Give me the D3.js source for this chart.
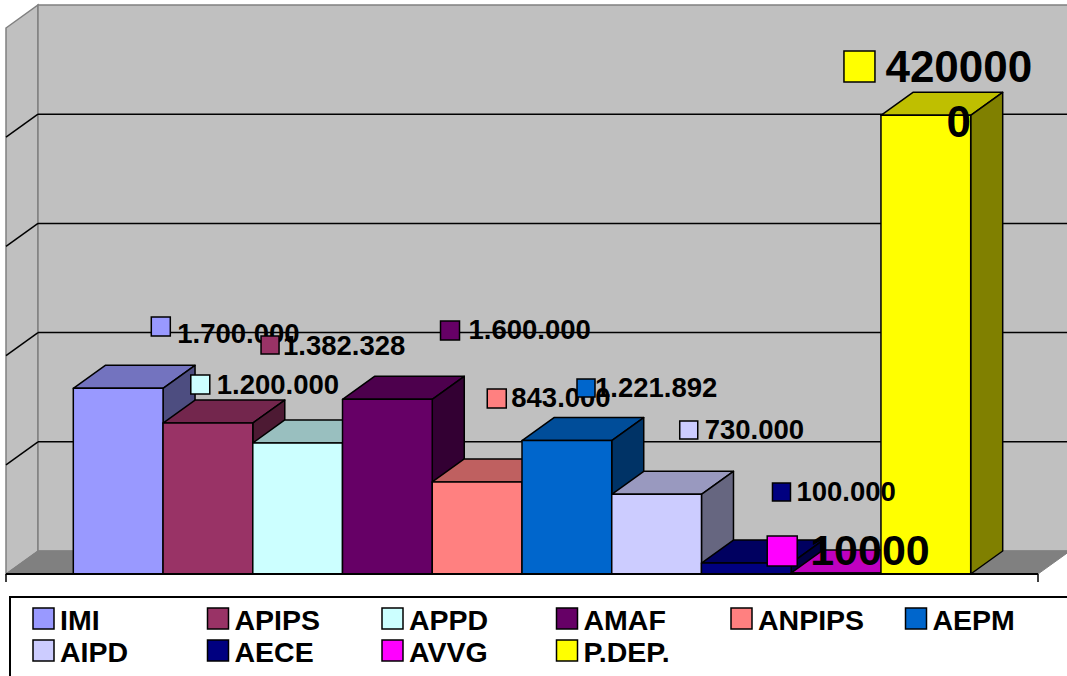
<!DOCTYPE html>
<html>
<head>
<meta charset="utf-8">
<script src="https://cdn.jsdelivr.net/npm/d3@7"></script>
<style>
  body { margin: 0; background: #fff; }
  text { font-family: "Liberation Sans", Arial, sans-serif; font-weight: bold; }
</style>
</head>
<body>
<div id="chart"></div>
<script>
const categories = ["IMI", "APIPS", "APPD", "AMAF", "ANPIPS", "AEPM", "AIPD", "AECE", "AVVG", "P.DEP."];
const values = [1700000, 1382328, 1200000, 1600000, 843000, 1221892, 730000, 100000, 10000, 4200000];
const valueLabels = ["1.700.000", "1.382.328", "1.200.000", "1.600.000", "843.000", "1.221.892", "730.000", "100.000", "10000", "4200000"];
const colors = ["#9999FF", "#993366", "#CCFFFF", "#660066", "#FF8080", "#0066CC", "#CCCCFF", "#000080", "#FF00FF", "#FFFF00"];
const yTicks = [0, 1000000, 2000000, 3000000, 4000000, 5000000];

const svgWidth = 1067;
const svgHeight = 676;

// 3d depth offset of the back plane
const depth = { dx: 32, dy: -23 };
const x0 = 6, x1 = 1038;

const svg = d3.select("#chart")
    .append("svg")
    .attr("width", svgWidth)
    .attr("height", svgHeight);

const xScale = d3.scaleBand()
    .domain(categories)
    .range([x0, x1])
    .paddingInner(0)
    .paddingOuter(0.75);

const yScale = d3.scaleLinear()
    .domain([0, 5000000])
    .range([574, 28]);

const yTop = yScale(5000000), yBase = yScale(0);
const pts = p => p.map(d => d.join(",")).join(" ");
const shade = (c, k) => { const r = d3.rgb(c); return d3.rgb(r.r * k, r.g * k, r.b * k).formatHex(); };

// walls and floor
svg.append("polygon")
    .attr("points", pts([[x0, yTop], [x0 + depth.dx, yTop + depth.dy], [x0 + depth.dx, yBase + depth.dy], [x0, yBase]]))
    .attr("fill", "#C0C0C0").attr("stroke", "#808080").attr("stroke-width", 1.5);
svg.append("polygon")
    .attr("points", pts([[x0 + depth.dx, yTop + depth.dy], [x1 + depth.dx + 40, yTop + depth.dy], [x1 + depth.dx + 40, yBase + depth.dy], [x0 + depth.dx, yBase + depth.dy]]))
    .attr("fill", "#C0C0C0").attr("stroke", "#808080").attr("stroke-width", 1.5);
svg.append("polygon")
    .attr("points", pts([[x0, yBase], [x0 + depth.dx, yBase + depth.dy], [x1 + depth.dx, yBase + depth.dy], [x1, yBase]]))
    .attr("fill", "#808080").attr("stroke", "#808080");

// gridlines on back wall and side wall
const grid = svg.append("g");
yTicks.slice(1, -1).forEach(t => {
    grid.append("line")
        .attr("x1", x0 + depth.dx).attr("x2", svgWidth)
        .attr("y1", yScale(t) + depth.dy).attr("y2", yScale(t) + depth.dy)
        .attr("stroke", "#000").attr("stroke-width", 1.5);
    grid.append("line")
        .attr("x1", x0).attr("x2", x0 + depth.dx)
        .attr("y1", yScale(t)).attr("y2", yScale(t) + depth.dy)
        .attr("stroke", "#000").attr("stroke-width", 1.5);
});

// bars, drawn left to right
const bars = svg.append("g");
categories.forEach((c, i) => {
    const bx = xScale(c), bw = xScale.bandwidth();
    const top = yScale(values[i]);
    const g = bars.append("g")
        .attr("stroke", "#000").attr("stroke-width", 1.5).attr("stroke-linejoin", "round");
    g.append("polygon")
        .attr("points", pts([[bx, top], [bx + depth.dx, top + depth.dy], [bx + bw + depth.dx, top + depth.dy], [bx + bw, top]]))
        .attr("fill", shade(colors[i], 0.75));
    g.append("polygon")
        .attr("points", pts([[bx + bw, top], [bx + bw + depth.dx, top + depth.dy], [bx + bw + depth.dx, yBase + depth.dy], [bx + bw, yBase]]))
        .attr("fill", shade(colors[i], 0.5));
    g.append("rect")
        .attr("x", bx).attr("y", top)
        .attr("width", bw).attr("height", yBase - top)
        .attr("fill", colors[i]);
});

// axis line at the floor front
svg.append("line")
    .attr("x1", x0).attr("x2", x1).attr("y1", yBase).attr("y2", yBase)
    .attr("stroke", "#000").attr("stroke-width", 2);
[x0, x1].forEach(x => {
    svg.append("line")
        .attr("x1", x).attr("x2", x).attr("y1", yBase).attr("y2", yBase + 8)
        .attr("stroke", "#000").attr("stroke-width", 1.5);
});

// data labels: key square offset from bar, baseline, size
const labelLayout = [
    { dx: 78, sy: 317, s: 19, tdx: 26, ty: 343, fs: 27.5 },
    { dx: 98, sy: 336, s: 18, tdx: 22, ty: 355, fs: 27.5 },
    { dx: -62, sy: 375, s: 19, tdx: 26, ty: 394, fs: 27.5 },
    { dx: 98, sy: 321, s: 19, tdx: 28, ty: 339, fs: 27.5 },
    { dx: 55, sy: 389, s: 19, tdx: 24, ty: 407, fs: 27.5 },
    { dx: 55, sy: 379, s: 18, tdx: 18, ty: 397, fs: 27.5 },
    { dx: 68, sy: 421, s: 18, tdx: 25, ty: 439, fs: 27.5 },
    { dx: 71, sy: 483, s: 18, tdx: 24, ty: 501, fs: 27.5 },
    { dx: -24, sy: 536, s: 30, tdx: 43, ty: 565, fs: 43 },
    { dx: -37, sy: 51, s: 31, tdx: 0, ty: 82, fs: 44 }
];

const labels = svg.append("g");
categories.forEach((c, i) => {
    const L = labelLayout[i];
    const sx = xScale(c) + L.dx;
    if (c === "P.DEP.") {
        // wrapped label, centred
        const t = labels.append("text")
            .attr("text-anchor", "middle")
            .attr("font-size", L.fs + "px");
        const cx = xScale(c) + xScale.bandwidth() / 2 + 33;
        t.append("tspan").attr("x", cx).attr("y", L.ty).text(valueLabels[i].slice(0, -1));
        t.append("tspan").attr("x", cx).attr("y", L.ty + 55).text(valueLabels[i].slice(-1));
    } else {
        labels.append("text")
            .attr("x", sx + L.tdx)
            .attr("y", L.ty)
            .attr("font-size", L.fs + "px")
            .text(valueLabels[i]);
    }
    labels.append("rect")
        .attr("x", sx).attr("y", L.sy)
        .attr("width", L.s).attr("height", L.s)
        .attr("fill", colors[i])
        .attr("stroke", "#000").attr("stroke-width", 1.5);
});

// legend
const legend = svg.append("g");
legend.append("rect")
    .attr("x", 10).attr("y", 597)
    .attr("width", 1070).attr("height", 100)
    .attr("fill", "#fff").attr("stroke", "#000").attr("stroke-width", 2);

categories.forEach((c, i) => {
    const col = i % 6, row = Math.floor(i / 6);
    const lx = 33 + col * 174.5;
    const ly = 608 + row * 32;
    legend.append("rect")
        .attr("x", lx).attr("y", ly)
        .attr("width", 21).attr("height", 21)
        .attr("fill", colors[i])
        .attr("stroke", "#000").attr("stroke-width", 1.5);
    legend.append("text")
        .attr("x", lx + 27)
        .attr("y", ly + 22)
        .attr("font-size", "28.5px")
        .text(c);
});
</script>
</body>
</html>
